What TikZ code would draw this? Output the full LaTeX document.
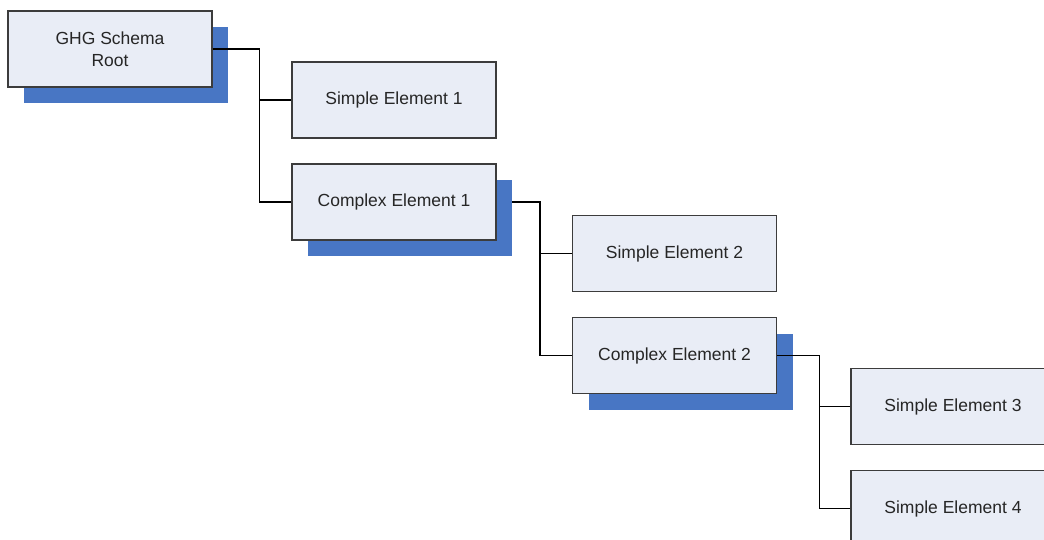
\documentclass[tikz,border=0pt]{standalone}
\usepackage{fontspec}
\setmainfont{Liberation Sans}
\usetikzlibrary{shadows}
\definecolor{boxfill}{RGB}{233,237,246}
\definecolor{boxline}{RGB}{60,60,60}
\definecolor{shadowblue}{RGB}{72,118,196}
\pgfdeclarelayer{background}
\pgfsetlayers{background,main}
\tikzset{
  elem/.style={draw=boxline, line width=1.2pt, fill=boxfill, rectangle,
    minimum width=204pt, minimum height=76pt, inner sep=0pt,
    align=center, font=\fontsize{17.5}{21.5}\selectfont, text=black!85},
  shad/.style={drop shadow={shadow xshift=16pt, shadow yshift=-16pt,
    fill=shadowblue, opacity=1}},
  conn/.style={draw=black, line width=1.6pt}
}
\begin{document}
\begin{tikzpicture}[x=1pt,y=-1pt]
\useasboundingbox (0,0) rectangle (1044,540);
\clip (0,0) rectangle (1044,540);
\node[elem,shad] (root) at (110,49) {GHG Schema\\Root};
\node[elem] (se1) at (394,100) {Simple Element 1};
\node[elem,shad] (ce1) at (394,202) {Complex Element 1};
\node[elem] (se2) at (674.5,253.5) {Simple Element 2};
\node[elem,shad] (ce2) at (674.5,355.5) {Complex Element 2};
\node[elem] (se3) at (953,406.5) {Simple Element 3};
\node[elem] (se4) at (953,508.5) {Simple Element 4};
% connectors
\draw[conn] (root.east) -- (259.5,49) |- (se1.west);
\draw[conn] (259.5,100) |- (ce1.west);
\begin{pgfonlayer}{background}
\draw[conn] (ce1.east) -- (540,202) |- (se2.west);
\end{pgfonlayer}
\draw[conn] (540,253.5) |- (ce2.west);
\draw[conn] (ce2.east) -- (819.5,355.5) |- (se3.west);
\draw[conn] (819.5,406.5) |- (se4.west);
\end{tikzpicture}
\end{document}
